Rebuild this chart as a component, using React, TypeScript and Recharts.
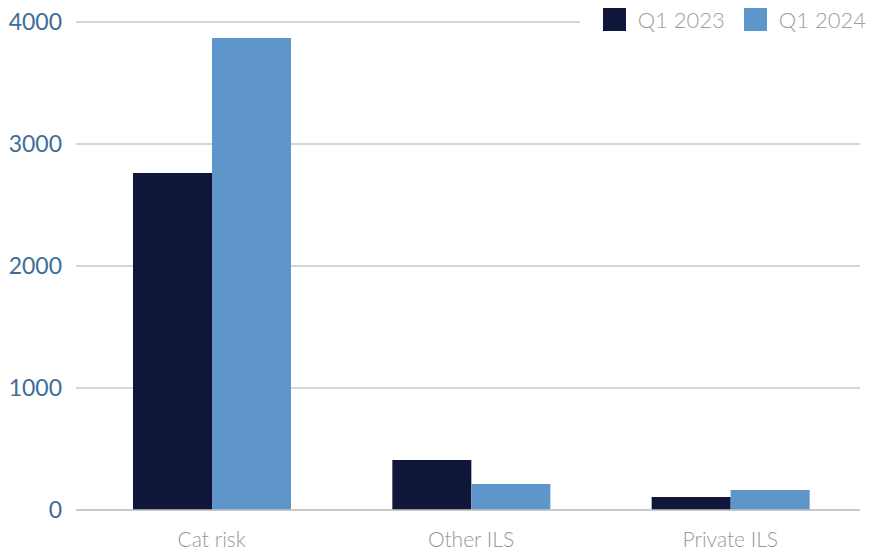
import { BarChart, Bar, XAxis, YAxis, CartesianGrid, Legend } from "recharts";

const categories = ["Cat risk", "Other ILS", "Private ILS"];
const q12023 = [2762, 410, 107];
const q12024 = [3869, 213, 164];
const yTicks = [0, 1000, 2000, 3000, 4000];

const NAVY = "#0f1639";
const BLUE = "#5e96cb";

const data = categories.map((name, i) => ({
    name,
    q2023: q12023[i],
    q2024: q12024[i],
}));

const LegendContent = (props: any) => {
    const items = props.payload || [];
    return (
        <div style={{ display: "flex", alignItems: "center", background: "#fff", paddingLeft: 23 }}>
            {items.map((item: any, idx: number) => (
                <div
                    key={`legend-${idx}`}
                    style={{ display: "flex", alignItems: "center", marginLeft: idx === 0 ? 0 : 19 }}
                >
                    <span
                        style={{
                            display: "inline-block",
                            width: 23,
                            height: 23,
                            background: item.color,
                            marginRight: 12,
                        }}
                    />
                    <span
                        style={{
                            fontFamily: "Lato, sans-serif",
                            fontSize: 22,
                            fontWeight: 300,
                            color: "#a0a0a0",
                            lineHeight: "23px",
                        }}
                    >
                        {item.value}
                    </span>
                </div>
            ))}
        </div>
    );
};

export default function App() {
    return (
        <div style={{ position: "absolute", left: 0, top: 0 }}>
            <BarChart
                width={871}
                height={552}
                data={data}
                margin={{ top: 22, right: 11, bottom: 0, left: 0 }}
                barCategoryGap={51}
                barGap={0}
            >
                <CartesianGrid vertical={false} stroke="#c8c8c8" strokeWidth={1.3} />
                <XAxis
                    dataKey="name"
                    height={42}
                    padding={{ left: 6, right: 0 }}
                    tickLine={false}
                    tickSize={0}
                    tickMargin={22}
                    axisLine={{ stroke: "#c4c4c4", strokeWidth: 1.5 }}
                    tick={{ fill: "#989898", fontSize: 21, fontFamily: "Lato, sans-serif", fontWeight: 300 }}
                />
                <YAxis
                    width={76}
                    domain={[0, 4000]}
                    ticks={yTicks}
                    axisLine={false}
                    tickLine={false}
                    tickSize={0}
                    tickMargin={14}
                    tick={{ fill: "#3d6e98", fontSize: 23, fontFamily: "Lato, sans-serif", fontWeight: 400 }}
                />
                <Legend
                    layout="horizontal"
                    verticalAlign="middle"
                    align="center"
                    wrapperStyle={{ top: 8, right: 5, left: "auto", width: "auto" }}
                    content={<LegendContent />}
                />
                <Bar dataKey="q2023" name="Q1 2023" fill={NAVY} isAnimationActive={false} />
                <Bar dataKey="q2024" name="Q1 2024" fill={BLUE} isAnimationActive={false} />
            </BarChart>
        </div>
    );
}
